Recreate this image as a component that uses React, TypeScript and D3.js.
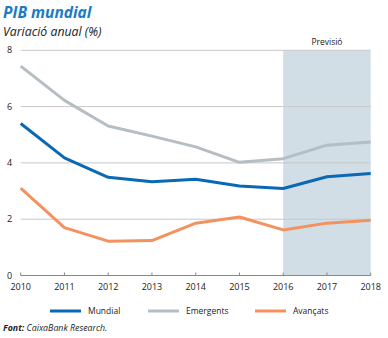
import React from "react";
import * as d3 from "d3";

const years = [2010, 2011, 2012, 2013, 2014, 2015, 2016, 2017, 2018];
const mundial = [5.4, 4.18, 3.49, 3.33, 3.42, 3.18, 3.09, 3.51, 3.62];
const emergents = [7.44, 6.22, 5.31, 4.95, 4.57, 4.02, 4.15, 4.63, 4.74];
const avancats = [3.1, 1.7, 1.22, 1.24, 1.86, 2.08, 1.62, 1.86, 1.96];
const yTicks = [0, 2, 4, 6, 8];
const forecastStart = 2016;
const forecastEnd = 2018;

const series = [
  { name: "Mundial", values: mundial, color: "#0a69b4" },
  { name: "Emergents", values: emergents, color: "#b4bec3" },
  { name: "Avançats", values: avancats, color: "#f4925f" },
];

const font = "'Open Sans', 'Noto Sans', sans-serif";

export default function App() {
  const W = 388, H = 338;
  const x = d3.scaleLinear().domain([2010, 2018]).range([20.7, 370.7]);
  const y = d3.scaleLinear().domain([0, 8]).range([275.5, 50.3]);
  const line = (vals: number[]) =>
    d3.line<number>().x((_, i) => x(years[i])).y((v) => y(v))(vals) || "";
  const legendX = [50, 148, 255];
  return (
    <svg width={W} height={H} style={{ position: "absolute", left: 0, top: 0 }}>
      <rect width={W} height={H} fill="#fff" />
      <text x={3} y={18} fontFamily={font} fontSize={15.5} fontWeight="bold" fontStyle="italic" fill="#1a7bc4">PIB mundial</text>
      <text x={3} y={36} fontFamily={font} fontSize={12.3} fontStyle="italic" fill="#222">Variació anual (%)</text>
      <rect x={x(forecastStart)} y={y(8)} width={x(forecastEnd) - x(forecastStart)} height={y(0) - y(8)} fill="#d1dee6" />
      <text x={(x(forecastStart) + x(forecastEnd)) / 2} y={y(8) - 5} textAnchor="middle" fontFamily={font} fontSize={8.5} fill="#222">Previsió</text>
      {yTicks.filter((t) => t > 0).map((t) => (
        <line key={t} x1={x(2010)} x2={x(2018)} y1={y(t)} y2={y(t)} stroke="#c8c8c8" strokeWidth={1} />
      ))}
      {yTicks.map((t) => (
        <text key={t} x={7} y={y(t) + 3} fontFamily={font} fontSize={9} fill="#222">{t}</text>
      ))}
      <line x1={x(2010)} x2={x(2018)} y1={y(0)} y2={y(0)} stroke="#888" strokeWidth={1} />
      {years.map((yr) => (
        <g key={yr}>
          <line x1={x(yr)} x2={x(yr)} y1={y(0) - 3} y2={y(0)} stroke="#888" strokeWidth={1} />
          <text x={x(yr)} y={y(0) + 14} textAnchor="middle" fontFamily={font} fontSize={9} fill="#222">{yr}</text>
        </g>
      ))}
      {series.map((s) => (
        <path key={s.name} d={line(s.values)} fill="none" stroke={s.color} strokeWidth={3} strokeLinejoin="round" />
      ))}
      {series.map((s, i) => (
        <g key={s.name}>
          <line x1={legendX[i]} x2={legendX[i] + 31} y1={311} y2={311} stroke={s.color} strokeWidth={3} />
          <text x={legendX[i] + 38} y={314} fontFamily={font} fontSize={8.5} fill="#222">{s.name}</text>
        </g>
      ))}
      <text x={3} y={331} fontFamily={font} fontSize={8.8} fontStyle="italic" fill="#222">
        <tspan fontWeight="bold">Font:</tspan> CaixaBank Research.
      </text>
    </svg>
  );
}
